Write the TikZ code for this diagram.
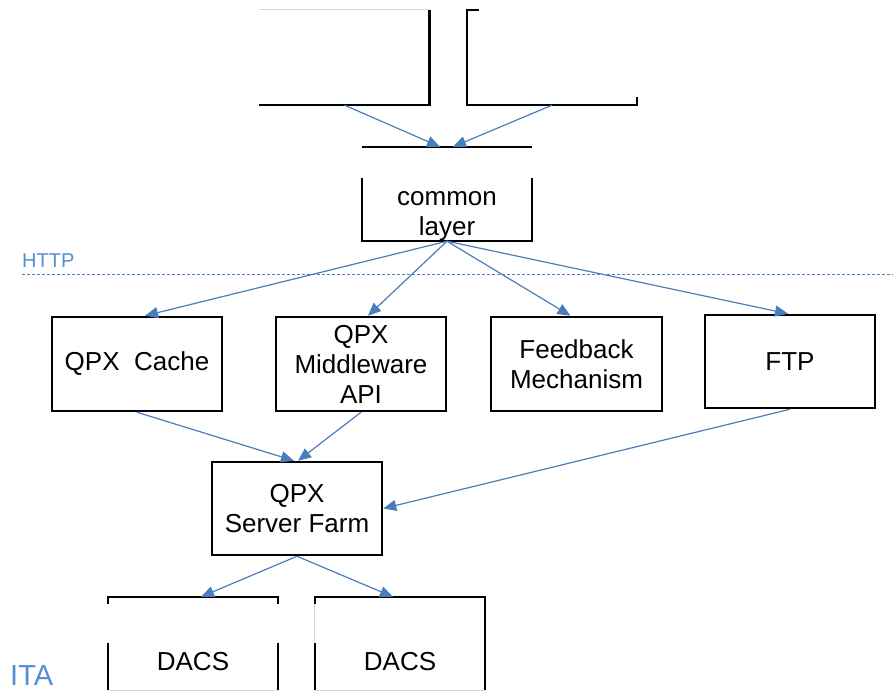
\documentclass[tikz,border=0pt]{standalone}
\usepackage{fontspec}
\setmainfont{Liberation Sans}
\usetikzlibrary{arrows.meta}
\definecolor{arrowblue}{RGB}{74,126,187}
\definecolor{labelblue}{RGB}{85,142,213}
\begin{document}
\begin{tikzpicture}[x=1pt,y=-1pt,
  box/.style={draw=black,line width=2.5pt,minimum width=170pt,minimum height=94pt,inner sep=0pt,align=center,font=\fontsize{26}{30}\selectfont},
  ghost/.style={minimum width=170pt,minimum height=94pt,inner sep=0pt},
  edgeline/.style={black,line width=2.5pt},
  faint/.style={black!15,line width=0.9pt},
  arr/.style={draw=arrowblue,line width=1.2pt,-{Triangle[length=13pt,width=11pt]}},
  txt/.style={font=\fontsize{26}{30}\selectfont,inner sep=0pt,anchor=base}]
\useasboundingbox (0,0) rectangle (893,690);

% top partial boxes
\node[ghost,minimum height=95pt] (tl) at (344.5,57.5) {};
\draw[faint] (tl.north west) -- (tl.north east);
\draw[edgeline] (tl.north east) -- (tl.south east) -- (tl.south west);

\node[ghost,minimum height=95pt] (tr) at (552,57.5) {};
\draw[edgeline] ([xshift=12pt]tr.north west) -- (tr.north west) -- (tr.south west) -- (tr.south east) -- ([yshift=8pt]tr.south east);

% common layer
\node[ghost] (cl) at (447,194) {};
\draw[edgeline] (cl.north west) -- (cl.north east);
\draw[edgeline] ([yshift=-31pt]cl.north west) -- (cl.south west) -- (cl.south east) -- ([yshift=-31pt]cl.north east);
\node[txt] (clt1) at (447,205) {common};
\node[txt] (clt2) at (447,235) {layer};

% HTTP line
\node[font=\fontsize{20}{24}\selectfont,text=labelblue,anchor=base west,inner sep=0pt] (http) at (22,267) {HTTP};
\coordinate (ha) at (22,274);
\coordinate (hb) at (893,274);
\draw[arrowblue,line width=1pt,dash pattern=on 3pt off 2pt] (ha) -- (hb);

% middle row
\node[box] (cache) at (137,364) {QPX\ \ Cache};
\node[box] (mw) at (361,364) {QPX\\Middleware\\API};
\node[box,minimum width=171pt] (fb) at (576.5,364) {Feedback\\Mechanism};
\node[box,minimum height=93pt] (ftp) at (790,361.5) {FTP};
\node[box,minimum height=93pt] (sf) at (297,508.5) {QPX\\Server Farm};

% DACS boxes
\node[ghost,minimum height=93pt] (dl) at (193,643.5) {};
\draw[edgeline] ([yshift=-7pt]dl.north west) -- (dl.north west) -- (dl.north east) -- ([yshift=-7pt]dl.north east);
\draw[edgeline] ([yshift=47pt]dl.south west) -- (dl.south west);
\draw[edgeline] ([yshift=47pt]dl.south east) -- (dl.south east);
\draw[faint] (dl.south west) -- (dl.south east);
\node[txt] (dlt) at (193,670) {DACS};

\node[ghost,minimum height=93pt] (dr) at (400,643.5) {};
\draw[edgeline] ([yshift=-7pt]dr.north west) -- (dr.north west) -- (dr.north east) -- (dr.south east);
\draw[faint] ([yshift=-7pt]dr.north west) -- ([yshift=47pt]dr.south west);
\draw[edgeline] ([yshift=47pt]dr.south west) -- (dr.south west);
\draw[faint] (dr.south west) -- (dr.south east);
\node[txt] (drt) at (400,670) {DACS};

% ITA label
\node[font=\fontsize{29}{34}\selectfont,text=labelblue,anchor=base west,inner sep=0pt] (ita) at (10,685) {ITA};

% connectors
\draw[arr] (tl.south) -- ([xshift=-7pt]cl.north);
\draw[arr] (tr.south) -- ([xshift=6pt]cl.north);
\draw[arr] (cl.south) -- ([xshift=8pt]cache.north);
\draw[arr] (cl.south) -- ([xshift=7pt]mw.north);
\draw[arr] (cl.south) -- ([xshift=-6pt]fb.north);
\draw[arr] (cl.south) -- ([xshift=-2pt]ftp.north);
\draw[arr] (cache.south) -- ([xshift=-3pt]sf.north);
\draw[arr] (mw.south) -- ([xshift=1pt]sf.north);
\draw[arr] (ftp.south) -- (sf.east);
\draw[arr] (sf.south) -- ([xshift=8pt]dl.north);
\draw[arr] (sf.south) -- ([xshift=-7pt]dr.north);
\end{tikzpicture}
\end{document}
